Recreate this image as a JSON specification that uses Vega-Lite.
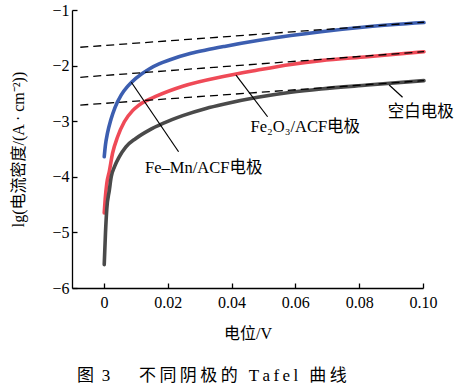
{
  "$schema": "https://vega.github.io/schema/vega-lite/v6.json",
  "autosize": {"type": "none"},
  "padding": {"left": 72, "top": 10, "right": 40, "bottom": 104},
  "width": 351,
  "height": 278,
  "config": {
    "view": {"stroke": null},
    "font": "'Liberation Serif', 'Noto Sans CJK SC', serif",
    "axis": {"domainColor": "#000", "domainWidth": 1.3, "tickColor": "#000", "tickWidth": 1.3, "tickSize": -5, "labelColor": "#000", "labelFontSize": 16, "titleFontSize": 16, "titleFontWeight": "normal", "titleColor": "#000", "grid": false, "labelFont": "'Liberation Serif', serif"}
  },
  "title": {"text": "图 \u20093\u2003\u2002\u2009不\u2009同\u2009阴\u2009极\u2009的 \u2009\u2009T\u2009a\u2009f\u2009e\u2009l \u2009\u2009曲\u2009线", "orient": "bottom", "anchor": "start", "frame": "group", "dx": 5, "offset": 27, "fontSize": 17, "fontWeight": "normal", "color": "#000", "font": "'Liberation Serif', 'Noto Sans CJK SC', serif"},
  "datasets": {
    "curves": [
      {"series": "Fe–Mn/ACF", "x": 0.0001, "y": -3.64},
      {"series": "Fe–Mn/ACF", "x": 0.0005, "y": -3.42},
      {"series": "Fe–Mn/ACF", "x": 0.0011, "y": -3.22},
      {"series": "Fe–Mn/ACF", "x": 0.0022, "y": -2.97},
      {"series": "Fe–Mn/ACF", "x": 0.0035, "y": -2.75},
      {"series": "Fe–Mn/ACF", "x": 0.0054, "y": -2.53},
      {"series": "Fe–Mn/ACF", "x": 0.0075, "y": -2.37},
      {"series": "Fe–Mn/ACF", "x": 0.01, "y": -2.23},
      {"series": "Fe–Mn/ACF", "x": 0.0142, "y": -2.06},
      {"series": "Fe–Mn/ACF", "x": 0.0173, "y": -1.97},
      {"series": "Fe–Mn/ACF", "x": 0.0205, "y": -1.9},
      {"series": "Fe–Mn/ACF", "x": 0.0273, "y": -1.78},
      {"series": "Fe–Mn/ACF", "x": 0.032, "y": -1.72},
      {"series": "Fe–Mn/ACF", "x": 0.0378, "y": -1.655},
      {"series": "Fe–Mn/ACF", "x": 0.0482, "y": -1.55},
      {"series": "Fe–Mn/ACF", "x": 0.0586, "y": -1.46},
      {"series": "Fe–Mn/ACF", "x": 0.068, "y": -1.39},
      {"series": "Fe–Mn/ACF", "x": 0.0826, "y": -1.3},
      {"series": "Fe–Mn/ACF", "x": 0.1003, "y": -1.225},
      {"series": "Fe₂O₃/ACF", "x": 0.0001, "y": -4.65},
      {"series": "Fe₂O₃/ACF", "x": 0.0004, "y": -4.4},
      {"series": "Fe₂O₃/ACF", "x": 0.0009, "y": -4.12},
      {"series": "Fe₂O₃/ACF", "x": 0.0017, "y": -3.9},
      {"series": "Fe₂O₃/ACF", "x": 0.0027, "y": -3.58},
      {"series": "Fe₂O₃/ACF", "x": 0.0043, "y": -3.28},
      {"series": "Fe₂O₃/ACF", "x": 0.0064, "y": -3.01},
      {"series": "Fe₂O₃/ACF", "x": 0.009, "y": -2.81},
      {"series": "Fe₂O₃/ACF", "x": 0.011, "y": -2.71},
      {"series": "Fe₂O₃/ACF", "x": 0.0168, "y": -2.54},
      {"series": "Fe₂O₃/ACF", "x": 0.0247, "y": -2.37},
      {"series": "Fe₂O₃/ACF", "x": 0.0378, "y": -2.19},
      {"series": "Fe₂O₃/ACF", "x": 0.0482, "y": -2.08},
      {"series": "Fe₂O₃/ACF", "x": 0.0586, "y": -1.98},
      {"series": "Fe₂O₃/ACF", "x": 0.068, "y": -1.91},
      {"series": "Fe₂O₃/ACF", "x": 0.0826, "y": -1.84},
      {"series": "Fe₂O₃/ACF", "x": 0.1003, "y": -1.75},
      {"series": "空白", "x": 0.0001, "y": -5.58},
      {"series": "空白", "x": 0.0005, "y": -5.0},
      {"series": "空白", "x": 0.0009, "y": -4.58},
      {"series": "空白", "x": 0.0017, "y": -4.24},
      {"series": "空白", "x": 0.0023, "y": -4.0},
      {"series": "空白", "x": 0.0033, "y": -3.82},
      {"series": "空白", "x": 0.0048, "y": -3.64},
      {"series": "空白", "x": 0.0069, "y": -3.46},
      {"series": "空白", "x": 0.01, "y": -3.31},
      {"series": "空白", "x": 0.0142, "y": -3.16},
      {"series": "空白", "x": 0.0185, "y": -3.04},
      {"series": "空白", "x": 0.0247, "y": -2.9},
      {"series": "空白", "x": 0.032, "y": -2.77},
      {"series": "空白", "x": 0.0378, "y": -2.69},
      {"series": "空白", "x": 0.0482, "y": -2.57},
      {"series": "空白", "x": 0.0586, "y": -2.48},
      {"series": "空白", "x": 0.068, "y": -2.42},
      {"series": "空白", "x": 0.0826, "y": -2.35},
      {"series": "空白", "x": 0.1003, "y": -2.27}
    ],
    "tangents": [
      {"line": "top", "x": -0.0074, "y": -1.67},
      {"line": "top", "x": 0.1003, "y": -1.22},
      {"line": "mid", "x": -0.0074, "y": -2.21},
      {"line": "mid", "x": 0.1003, "y": -1.75},
      {"line": "low", "x": -0.0074, "y": -2.71},
      {"line": "low", "x": 0.1003, "y": -2.27}
    ],
    "leaders": [
      {"x": 0.0086, "y": -2.3, "x2": 0.0234, "y2": -3.55},
      {"x": 0.0414, "y": -2.17, "x2": 0.0513, "y2": -2.92},
      {"x": 0.0894, "y": -2.35, "x2": 0.0936, "y2": -2.57}
    ],
    "labels": [
      {"text": "Fe–Mn/ACF电极", "x": 0.0313, "y": -3.84},
      {"text": "Fe₂O₃/ACF电极", "x": 0.0631, "y": -3.11},
      {"text": "空白电极", "x": 0.0993, "y": -2.83}
    ]
  },
  "encoding": {
    "x": {"field": "x", "type": "quantitative", "scale": {"domain": [-0.01, 0.1], "nice": false, "zero": false},
      "axis": {"title": "电位/V", "values": [0, 0.02, 0.04, 0.06, 0.08, 0.1], "labelExpr": "datum.value == 0 ? '0' : format(datum.value, '.2f')", "labelPadding": 11, "titlePadding": 15, "labelFlush": false}},
    "y": {"field": "y", "type": "quantitative", "scale": {"domain": [-6, -1], "nice": false, "zero": false},
      "axis": {"title": "lg(电流密度/(A · cm⁻²))", "values": [-6, -5, -4, -3, -2, -1], "labelPadding": 8, "titlePadding": 25, "labelFlush": false}}
  },
  "layer": [
    {
      "data": {"name": "curves"},
      "mark": {"type": "line", "strokeWidth": 3.6, "strokeCap": "round", "interpolate": "monotone"},
      "encoding": {
        "color": {"field": "series", "type": "nominal", "legend": null,
          "scale": {"domain": ["Fe–Mn/ACF", "Fe₂O₃/ACF", "空白"], "range": ["#3c5eb0", "#ef4a57", "#4a4a4a"]}}
      }
    },
    {
      "data": {"name": "tangents"},
      "mark": {"type": "line", "color": "#000", "strokeWidth": 1.3, "strokeDash": [8, 5]},
      "encoding": {"detail": {"field": "line", "type": "nominal"}}
    },
    {
      "data": {"name": "leaders"},
      "mark": {"type": "rule", "color": "#000", "strokeWidth": 1.2},
      "encoding": {"x2": {"field": "x2"}, "y2": {"field": "y2"}}
    },
    {
      "data": {"name": "labels"},
      "mark": {"type": "text", "fontSize": 16.5, "align": "center", "baseline": "middle", "color": "#000"},
      "encoding": {"text": {"field": "text", "type": "nominal"}}
    }
  ]
}
